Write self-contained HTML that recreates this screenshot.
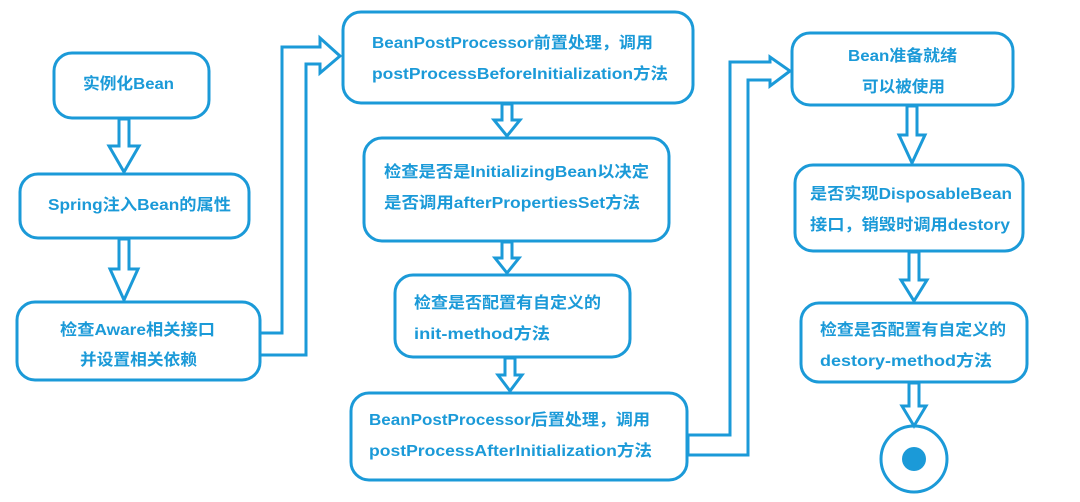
<!DOCTYPE html>
<html><head><meta charset="utf-8"><style>
html,body{margin:0;padding:0;background:#fff;}
svg{display:block;}
text{font-family:"Liberation Sans","Noto Sans CJK SC",sans-serif;font-weight:bold;font-size:16px;fill:#1b9ad8;dominant-baseline:middle;}
</style></head><body>
<svg width="1080" height="502" viewBox="0 0 1080 502">
<g fill="none" stroke="#1b9ad8" stroke-width="3" stroke-linejoin="miter">
<rect x="54" y="53" width="155" height="65" rx="18"/>
<rect x="20" y="174" width="229" height="64" rx="18"/>
<rect x="17" y="302" width="243" height="78" rx="18"/>
<rect x="343" y="12" width="350" height="91" rx="18"/>
<rect x="364" y="138" width="305" height="103" rx="18"/>
<rect x="395" y="275" width="235" height="82" rx="18"/>
<rect x="351" y="393" width="336" height="87" rx="18"/>
<rect x="792" y="33" width="221" height="72" rx="18"/>
<rect x="795" y="165" width="228" height="86" rx="18"/>
<rect x="801" y="303" width="226" height="79" rx="18"/>
<circle cx="914" cy="459" r="33"/>
<!-- down arrows -->
<polygon points="119,119 129,119 129,146 139,146 124,172 109,146 119,146"/>
<polygon points="119,239 129,239 129,269 138,269 124,300 110,269 119,269"/>
<polygon points="502,104 512,104 512,120 520,120 507,136 494,120 502,120"/>
<polygon points="502,242 512,242 512,258 519,258 507,273 495,258 502,258"/>
<polygon points="505,358 515,358 515,375 522,375 510,391 498,375 505,375"/>
<polygon points="907,106 917,106 917,135 925,135 912,163 899,135 907,135"/>
<polygon points="909,252 919,252 919,280 927,280 914,301 901,280 909,280"/>
<polygon points="909,383 919,383 919,406 926,406 914,426 902,406 909,406"/>
<!-- connectors -->
<polygon points="260,333 282,333 282,47 320,47 320,38 340,56 320,73 320,64 306,64 306,355 260,355"/>
<polygon points="688,435 730,435 730,62 770,62 770,57 790,71 770,86 770,80 748,80 748,455 688,455"/>
</g>
<circle cx="914" cy="459" r="12" fill="#1b9ad8"/>
<text x="83" y="85" textLength="91" lengthAdjust="spacingAndGlyphs">实例化Bean</text>
<text x="48" y="206" textLength="183" lengthAdjust="spacingAndGlyphs">Spring注入Bean的属性</text>
<text x="60" y="331" textLength="155" lengthAdjust="spacingAndGlyphs">检查Aware相关接口</text>
<text x="80" y="361" textLength="117" lengthAdjust="spacingAndGlyphs">并设置相关依赖</text>
<text x="372" y="44" textLength="281" lengthAdjust="spacingAndGlyphs">BeanPostProcessor前置处理，调用</text>
<text x="372" y="75" textLength="296" lengthAdjust="spacingAndGlyphs">postProcessBeforeInitialization方法</text>
<text x="384" y="173" textLength="265" lengthAdjust="spacingAndGlyphs">检查是否是InitializingBean以决定</text>
<text x="384" y="204" textLength="256" lengthAdjust="spacingAndGlyphs">是否调用afterPropertiesSet方法</text>
<text x="414" y="304" textLength="187" lengthAdjust="spacingAndGlyphs">检查是否配置有自定义的</text>
<text x="414" y="335" textLength="136" lengthAdjust="spacingAndGlyphs">init-method方法</text>
<text x="369" y="421" textLength="281" lengthAdjust="spacingAndGlyphs">BeanPostProcessor后置处理，调用</text>
<text x="369" y="452" textLength="283" lengthAdjust="spacingAndGlyphs">postProcessAfterInitialization方法</text>
<text x="848" y="57" textLength="109" lengthAdjust="spacingAndGlyphs">Bean准备就绪</text>
<text x="862" y="88" textLength="83" lengthAdjust="spacingAndGlyphs">可以被使用</text>
<text x="810" y="195" textLength="202" lengthAdjust="spacingAndGlyphs">是否实现DisposableBean</text>
<text x="810" y="226" textLength="200" lengthAdjust="spacingAndGlyphs">接口，销毁时调用destory</text>
<text x="820" y="331" textLength="186" lengthAdjust="spacingAndGlyphs">检查是否配置有自定义的</text>
<text x="820" y="362" textLength="172" lengthAdjust="spacingAndGlyphs">destory-method方法</text>
</svg>
</body></html>
